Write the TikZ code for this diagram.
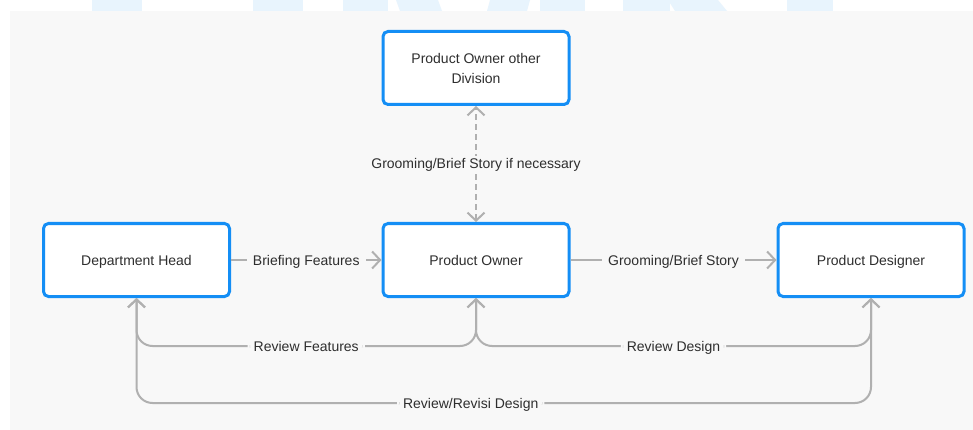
\documentclass[tikz,border=0pt]{standalone}
\usepackage{fontspec}
\setmainfont{Liberation Sans}
\usetikzlibrary{arrows.meta}
\definecolor{bg}{HTML}{F8F8F8}
\definecolor{boxblue}{HTML}{148EF5}
\definecolor{conncol}{HTML}{B0B0B0}
\definecolor{txt}{HTML}{2E2E2E}
\definecolor{wm}{HTML}{E8F4FD}
\begin{document}
\begin{tikzpicture}[x=1pt,y=-1pt,
  box/.style={draw=boxblue, line width=3pt, fill=white, rounded corners=5pt,
    minimum width=186pt, minimum height=73pt, outer sep=1.5pt, inner sep=0pt,
    text=txt, font=\fontsize{14}{20}\selectfont, align=center},
  oneline/.style={text height=10pt, text depth=0pt},
  conn/.style={draw=conncol, line width=2pt, >={Straight Barb[length=8pt,width=17pt]}},
  lbl/.style={fill=bg, text=txt, font=\fontsize{14}{17}\selectfont, inner xsep=6pt, inner ysep=3pt,
    text height=10pt, text depth=0pt}
]
\useasboundingbox (0,0) rectangle (973,430);
\fill[white] (0,0) rectangle (973,430);
% faint watermark shapes at the top
\fill[wm] (92,0) rectangle (142,11);
\fill[wm] (253,0) rectangle (303,11);
\fill[wm] (343,0) rectangle (388,11);
\fill[wm] (396,0) -- (438,0) -- (442,11) -- (400,11) -- cycle;
\fill[wm] (490,0) -- (530,0) -- (527,11) -- (487,11) -- cycle;
\fill[wm] (540,0) rectangle (585,11);
\fill[wm] (623,0) rectangle (670,11);
\fill[wm] (668,0) -- (718,0) -- (727,11) -- (675,11) -- cycle;
\fill[wm] (787,0) rectangle (833,11);
% background panel
\fill[bg] (10,11) rectangle (973,430);

\node[box] (pod) at (476,68) {Product Owner other\\Division};
\node[box,oneline] (dh)  at (136.5,260) {Department Head};
\node[box,oneline] (po)  at (476,260) {Product Owner};
\node[box,oneline] (pd)  at (871,260) {Product Designer};

\coordinate (yrf) at (0,346);
\coordinate (yrr) at (0,403);

\draw[conn,->] (dh.east) -- node[lbl]{Briefing Features} (po.west);
\draw[conn,->] (po.east) -- node[lbl]{Grooming/Brief Story} (pd.west);
\draw[conn,<->,dash pattern=on 6pt off 4pt] (po.north) -- node[lbl]{Grooming/Brief Story if necessary} (pod.south);

\draw[conn,<->,rounded corners=16pt] (po.south) -- (po.south |- yrf)
  -- node[lbl]{Review Features} (dh.south |- yrf) -- (dh.south);
\draw[conn,<->,rounded corners=16pt] (po.south) -- (po.south |- yrf)
  -- node[lbl]{Review Design} (pd.south |- yrf) -- (pd.south);
\draw[conn,<->,rounded corners=16pt] (dh.south) -- (dh.south |- yrr)
  -- node[lbl,pos=0.455]{Review/Revisi Design} (pd.south |- yrr) -- (pd.south);
\end{tikzpicture}
\end{document}
